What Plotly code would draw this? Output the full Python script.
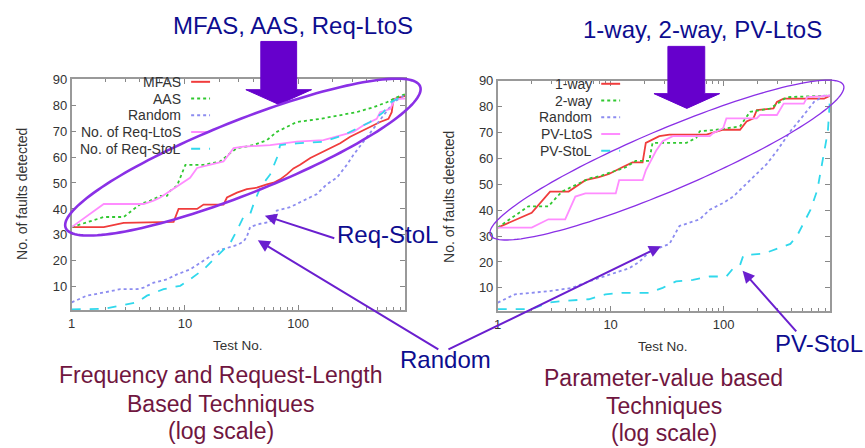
import math
import numpy as np
import plotly.graph_objects as go

W, H = 865, 448

# ---------------- data ----------------
# Left chart: Frequency and Request-Length based techniques
mfas_x = [1, 1.92, 2.88, 7.42, 7.94, 8.79, 12.8, 14.6, 21.9, 23.5, 28.8, 35.2, 43.2, 52.9, 60.6, 69.3, 79.4, 90.9, 104, 128, 156, 191, 235, 288, 352, 432, 529, 627, 670, 693, 880]
mfas_y = [33, 33, 34.6, 35, 35, 40, 40, 41.7, 41.7, 44.4, 46.3, 47.6, 48.2, 49.5, 50.1, 51.4, 53.3, 55.6, 57, 59.6, 61.5, 63.4, 65.3, 67.8, 69.7, 71.6, 73.5, 74.7, 77.3, 82.3, 83.6]

aas_x = [1, 1.92, 2.88, 4.04, 4.94, 6.06, 6.94, 7.42, 8.5, 10.1, 14.6, 20.5, 25.1, 28.8, 40.4, 52.9, 64.8, 79.4, 97.3, 156, 219, 329, 462, 606, 743, 880]
aas_y = [33, 36.9, 36.9, 41.9, 43.2, 45, 45, 47, 48.9, 57, 57, 58.3, 61.5, 63.4, 64.6, 66.5, 69.7, 71.6, 73.5, 74.7, 76, 77.3, 79.2, 81.1, 83, 84.2]

rand1_x = [1, 1.36, 1.92, 2.69, 3.77, 4.32, 5.29, 6.94, 8.5, 11.1, 13.6, 16.7, 20.5, 28.8, 32.9, 35.2, 37.7, 46.2, 56.6, 64.8, 85, 111, 146, 179, 219, 269, 308, 377, 462, 566, 693, 850, 880]
rand1_y = [4.0, 6.6, 7.8, 9.1, 9.1, 9.7, 11.6, 12.9, 14.8, 16.7, 19.2, 21.7, 24.2, 26.1, 27.4, 29.3, 33.1, 34.3, 35, 39.4, 40.7, 43.2, 45.7, 49.5, 52, 57, 60.9, 65.9, 71, 76, 81, 83.6, 84]

rlts_x = [1, 1.92, 4.32, 5.29, 6.06, 7.42, 8.5, 11.1, 12.8, 16.7, 21.9, 26.9, 32.9, 56.6, 97.3, 167, 219, 308, 377, 432, 494, 529, 648, 718, 880]
rlts_y = [33, 41.9, 41.9, 43.2, 44.4, 47, 48.9, 52, 55.8, 57, 58.3, 63.4, 64, 64.6, 65.9, 66.5, 67.8, 69.7, 72.2, 73.5, 74.7, 77.3, 78.5, 82.3, 82.5]

rstl_x = [1, 1.92, 2.69, 3.77, 4.62, 6.48, 9.09, 11.1, 14.6, 19.1, 21.9, 25.1, 28.8, 32.9, 37.7, 40.4, 46.2, 56.6, 64.8, 69.3, 97.3, 167, 251, 329, 432, 566, 648, 850, 880]
rstl_y = [1.3, 1.5, 2.8, 4, 6.6, 9.1, 10.4, 12.9, 16.7, 21.7, 24.2, 26.8, 31.8, 36.9, 38.1, 41.9, 48.2, 53.3, 59.6, 64.6, 65.3, 65.9, 68.4, 71, 73.5, 77.3, 81, 83.6, 84]

# Right chart: Parameter-value based techniques
w1_x = [1, 2.0, 2.91, 4.25, 4.87, 5.98, 7.87, 9.66, 12.7, 15.6, 19.2, 20.5, 27.0, 33.2, 70.5, 86.6, 99.3, 140, 160, 184, 197, 277, 297, 341, 776, 880]
w1_y = [33.3, 39, 47.2, 47.2, 49, 51.6, 52.8, 54, 56.6, 58.5, 58.5, 66, 68.6, 69.2, 69.2, 70.5, 71.1, 71.1, 74.3, 75.5, 78.7, 79.3, 81.8, 83.1, 83.1, 84.3]

w2_x = [1, 1.87, 2.81, 3.70, 5.21, 6.41, 8.43, 11.1, 13.6, 16.7, 22.0, 23.5, 46.7, 57.4, 61.5, 86.6, 140, 160, 172, 259, 365, 880]
w2_y = [33.3, 41.5, 41.5, 47.2, 50.3, 52.2, 53.5, 55.4, 56.6, 59.1, 59.1, 66, 66, 68, 70.5, 71.1, 72.4, 76.1, 78, 79.3, 83.7, 84.3]

rand2_x = [1, 1.42, 2.81, 4.55, 6.41, 9.66, 14.6, 17.9, 22.0, 33.2, 40.7, 50, 61.5, 75.5, 99.3, 122, 150, 184, 242, 297, 391, 514, 632, 776, 880]
rand2_y = [4.3, 7.5, 8.7, 10, 12.5, 15, 17.6, 20, 23.9, 27, 33.9, 35.2, 36.5, 40.2, 42.8, 45.3, 49, 52.8, 57.9, 62.9, 70.5, 76.8, 81.8, 84.3, 84.3]

pvlts_x = [1, 2.0, 2.81, 3.96, 4.87, 5.98, 11.1, 11.9, 19.2, 20.5, 25.2, 28.9, 35.5, 75.5, 80.9, 99.3, 106, 197, 211, 297, 341, 514, 551, 880]
pvlts_y = [33.3, 33.3, 36.5, 36.5, 45.3, 46.5, 46.5, 51.6, 51.6, 55.4, 62.9, 66.7, 68.6, 68.6, 69.8, 71.7, 75.5, 75.5, 76.8, 76.8, 81.2, 81.2, 83.7, 84.3]

pvstl_x = [1, 2.0, 2.81, 3.96, 6.41, 9.02, 12.7, 22.0, 28.9, 38.0, 53.6, 75.5, 106, 122, 140, 150, 226, 297, 391, 449, 514, 590, 677, 750, 840, 880]
pvstl_y = [1.8, 1.8, 4.3, 5, 5.6, 7.5, 8.1, 8.1, 10, 12.5, 13.1, 14.4, 14.4, 17.6, 18.8, 22.6, 23.2, 25.1, 27, 30.2, 35.2, 40.2, 47.8, 57.9, 70.5, 84.3]

left_names = ["MFAS", "AAS", "Random", "No. of Req-LtoS", "No. of Req-StoL"]
right_names = ["1-way", "2-way", "Random", "PV-LtoS", "PV-StoL"]
y_ticks = [10, 20, 30, 40, 50, 60, 70, 80, 90]
x_ticks = [1, 10, 100]
x_ticktext = ["1", "10", "100"]
x_minor = [2, 3, 4, 5, 6, 7, 8, 9, 20, 30, 40, 50, 60, 70, 80, 90, 200, 300, 400, 500, 600, 700, 800]

# ---------------- styles ----------------
styles = [
    dict(color="#f03c3c", dash="solid", width=1.8),
    dict(color="#30c830", dash="dot", width=1.8),
    dict(color="#8c8cf0", dash="dot", width=1.8),
    dict(color="#ff8cff", dash="solid", width=1.8),
    dict(color="#30d8ec", dash="dash", width=1.8),
]

def X(p):
    return p / W

def Y(p):
    return 1 - p / H

fig = go.Figure()

left_series = [(mfas_x, mfas_y), (aas_x, aas_y), (rand1_x, rand1_y), (rlts_x, rlts_y), (rstl_x, rstl_y)]
right_series = [(w1_x, w1_y), (w2_x, w2_y), (rand2_x, rand2_y), (pvlts_x, pvlts_y), (pvstl_x, pvstl_y)]

for (xs, ys), nm, st in zip(left_series, left_names, styles):
    fig.add_trace(go.Scatter(x=xs, y=ys, mode="lines", name=nm, line=st,
                             xaxis="x", yaxis="y", showlegend=False))
for (xs, ys), nm, st in zip(right_series, right_names, styles):
    fig.add_trace(go.Scatter(x=xs, y=ys, mode="lines", name=nm, line=st,
                             xaxis="x2", yaxis="y2", showlegend=False))

axis_font = dict(family="Liberation Sans, Arial, sans-serif", size=13, color="#333333")
xmax = math.log10(880)

def xaxis_cfg(domain, anchor):
    return dict(type="log", domain=domain, anchor=anchor, range=[0, xmax],
                tickmode="array", tickvals=x_ticks, ticktext=x_ticktext,
                ticks="inside", ticklen=5, tickcolor="#888888", tickwidth=1,
                minor=dict(tickmode="array", tickvals=x_minor, ticks="inside", ticklen=3,
                           tickcolor="#888888", showgrid=False),
                showline=True, linecolor="#999999", linewidth=1.5, mirror="allticks",
                showgrid=False, zeroline=False, tickfont=axis_font)

def yaxis_cfg(domain, anchor):
    return dict(domain=domain, anchor=anchor, range=[1, 90],
                tickmode="array", tickvals=y_ticks,
                ticks="inside", ticklen=5, tickcolor="#888888", tickwidth=1,
                showline=True, linecolor="#999999", linewidth=1.5, mirror="allticks",
                showgrid=False, zeroline=False, tickfont=axis_font)

fig.update_layout(
    width=W, height=H, margin=dict(l=0, r=0, t=0, b=0),
    paper_bgcolor="white", plot_bgcolor="white", showlegend=False,
    xaxis=xaxis_cfg([X(68), X(403)], "y"),
    yaxis=yaxis_cfg([Y(308), Y(73.3)], "x"),
    xaxis2=xaxis_cfg([X(496), X(830)], "y2"),
    yaxis2=yaxis_cfg([Y(309), Y(75)], "x2"),
)

annotations = []
shapes = []

# legends (gnuplot style: text right-aligned, sample to the right)
def add_legend(names, text_right, s0, s1, rows):
    for nm, st, r in zip(names, styles, rows):
        annotations.append(dict(text=nm, x=X(text_right), y=Y(r), xref="paper", yref="paper",
                                xanchor="right", yanchor="middle", showarrow=False,
                                font=dict(family="Liberation Sans, Arial, sans-serif", size=14, color="#333333")))
        shapes.append(dict(type="line", xref="paper", yref="paper", x0=X(s0), x1=X(s1), y0=Y(r), y1=Y(r),
                           line=dict(color=st["color"], dash=st["dash"], width=2)))

add_legend(left_names, 180, 188, 207, [76, 93, 110, 127, 144])
add_legend(right_names, 593, 600, 619, [78, 95, 112, 129, 146])

# axis titles
for (cx, cy) in [(235, 344), (662, 345)]:
    annotations.append(dict(text="Test No.", x=X(cx), y=Y(cy), xref="paper", yref="paper",
                            showarrow=False, xanchor="center", yanchor="middle",
                            font=dict(family="Liberation Sans, Arial, sans-serif", size=13.5, color="#333333")))
for (cx, cy) in [(18, 190), (447, 193)]:
    annotations.append(dict(text="No. of faults detected", x=X(cx), y=Y(cy), xref="paper", yref="paper",
                            showarrow=False, xanchor="center", yanchor="middle", textangle=-90,
                            font=dict(family="Liberation Sans, Arial, sans-serif", size=14, color="#333333")))

# big blue labels
blue = "#0d0d8f"
big_font = dict(family="Liberation Sans, Arial, sans-serif", size=24, color=blue)
for txt, cx, cy in [("MFAS, AAS, Req-LtoS", 290, 19), ("1-way, 2-way, PV-LtoS", 702, 23),
                    ("Req-StoL", 385, 231), ("Random", 444, 358), ("PV-StoL", 819, 342)]:
    annotations.append(dict(text=txt, x=X(cx), y=Y(cy), xref="paper", yref="paper", showarrow=False,
                            xanchor="center", yanchor="middle", font=big_font))

# maroon subtitles
maroon = "#701640"
sub_font = dict(family="Liberation Sans, Arial, sans-serif", size=23, color=maroon)
for txt, cx, cy in [("Frequency and Request-Length", 218, 374), ("Based Techniques", 218, 403),
                    ("(log scale)", 218, 431), ("Parameter-value based", 663, 377),
                    ("Techniques", 663, 405), ("(log scale)", 663, 433)]:
    annotations.append(dict(text=txt, x=X(cx), y=Y(cy), xref="paper", yref="paper", showarrow=False,
                            xanchor="center", yanchor="middle", font=sub_font))

# thin pointer arrows (tail -> tip)
arrow_col = "#6a1fcf"
for (tx, ty), (hx, hy) in [((333, 235), (262, 212)), ((437, 347), (255, 237)),
                           ((446, 347), (660, 243)), ((797, 330), (742, 268))]:
    annotations.append(dict(text="", x=X(hx), y=Y(hy), xref="paper", yref="paper",
                            ax=tx - hx, ay=ty - hy, axref="pixel", ayref="pixel",
                            showarrow=True, arrowhead=2, arrowsize=1.2, arrowwidth=2,
                            arrowcolor=arrow_col, standoff=0, startstandoff=0))

# block arrows
def block_arrow(s0, s1, top, htop, h0, h1, tipx, tipy):
    pts = [(s0, top), (s1, top), (s1, htop), (h1, htop), (tipx, tipy), (h0, htop), (s0, htop)]
    return "M " + " L ".join(f"{X(a):.5f},{Y(b):.5f}" for a, b in pts) + " Z"

for args in [(258, 294, 35, 84, 243, 309, 276, 99), (667, 704, 40, 88, 653, 719, 686, 103)]:
    shapes.append(dict(type="path", xref="paper", yref="paper", path=block_arrow(*args),
                       fillcolor="#6600cc", line=dict(color="#6600cc", width=1), layer="above"))

# ellipses
def ellipse_path(cx, cy, a, b, deg, n=160):
    th = math.radians(deg)
    pts = []
    for t in np.linspace(0, 2 * math.pi, n):
        x = cx + a * math.cos(t) * math.cos(th) + b * math.sin(t) * math.sin(th)
        y = cy - a * math.cos(t) * math.sin(th) + b * math.sin(t) * math.cos(th)
        pts.append((x, y))
    return "M " + " L ".join(f"{X(a_):.5f},{Y(b_):.5f}" for a_, b_ in pts) + " Z"

shapes.append(dict(type="path", xref="paper", yref="paper", path=ellipse_path(240, 152.5, 192, 37, 22),
                   line=dict(color="#8a30e6", width=2.6), layer="above"))
shapes.append(dict(type="path", xref="paper", yref="paper", path=ellipse_path(666, 155.5, 193, 31, 23.2),
                   line=dict(color="#8a30e6", width=1.3), layer="above"))

fig.update_layout(annotations=annotations, shapes=shapes)
fig.write_html("out.html", config={"displayModeBar": False},
               post_script="document.body.style.margin='0px';document.body.style.overflow='hidden';")
